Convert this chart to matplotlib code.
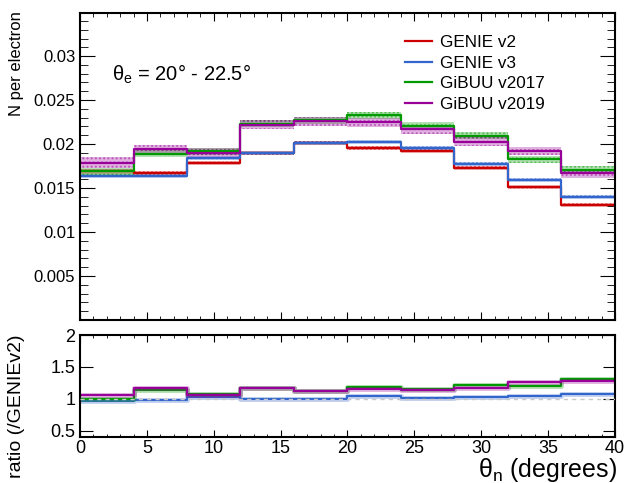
import numpy as np
import matplotlib
matplotlib.use('Agg')
import matplotlib.pyplot as plt
from matplotlib.ticker import MultipleLocator, FixedLocator

plt.rcParams['font.family'] = ['Liberation Sans', 'DejaVu Sans']
plt.rcParams['mathtext.fontset'] = 'custom'
plt.rcParams['mathtext.rm'] = 'Liberation Sans'
plt.rcParams['hatch.linewidth'] = 1.0

# theta_n bins (degrees)
edges = [0, 4, 8, 12, 16, 20, 24, 28, 32, 36, 40]

labels = ['GENIE v2', 'GENIE v3', 'GiBUU v2017', 'GiBUU v2019']
colors = ['#cc0000', '#3366cc', '#009900', '#990099']

genie_v2 = [0.0169, 0.0167, 0.01785, 0.0190, 0.0201, 0.01955, 0.0192, 0.0173, 0.01515, 0.01307]
genie_v3 = [0.0164, 0.01636, 0.0184, 0.0190, 0.02015, 0.02025, 0.01955, 0.01773, 0.0159, 0.0140]
gibuu_2017 = [0.0169, 0.0189, 0.0192, 0.0223, 0.0227, 0.02326, 0.0221, 0.02094, 0.01826, 0.01705]
gibuu_2019 = [0.0179, 0.01943, 0.0190, 0.0222, 0.0226, 0.02248, 0.0217, 0.02026, 0.0192, 0.01667]

err_v2 = [0.00025, 0.00025, 0.00025, 0.00025, 0.00025, 0.00025, 0.00025, 0.00025, 0.00025, 0.00025]
err_v3 = [0.00025, 0.00025, 0.00025, 0.00025, 0.00025, 0.00025, 0.00025, 0.00025, 0.00025, 0.00025]
err_2017 = [0.0004, 0.0004, 0.0004, 0.0004, 0.0004, 0.0004, 0.0004, 0.0004, 0.0004, 0.0004]
err_2019 = [0.0006, 0.0005, 0.0005, 0.0005, 0.0005, 0.0005, 0.0005, 0.0005, 0.0005, 0.0005]

series = [genie_v2, genie_v3, gibuu_2017, gibuu_2019]
errors = [err_v2, err_v3, err_2017, err_2019]

fig = plt.figure(figsize=(6.26, 4.83), dpi=100)
ax1 = fig.add_axes([0.1278, 0.3375, 0.8546, 0.6356])
ax2 = fig.add_axes([0.1278, 0.0952, 0.8546, 0.2112])

def stepvals(v):
    return list(v) + [v[-1]]

for vals, err, c, lab in zip(series, errors, colors, labels):
    v = np.array(vals)
    e = np.array(err)
    ax1.fill_between(edges, stepvals(v - e), stepvals(v + e), step='post',
                     facecolor=c, alpha=0.3, edgecolor='none', lw=0)
    ax1.fill_between(edges, stepvals(v - e), stepvals(v + e), step='post',
                     facecolor='none', alpha=0.45, edgecolor=c, hatch='....', lw=0)
    ax1.step(edges, stepvals(v), where='post', color=c, lw=1.6, label=lab)

ax1.set_xlim(0, 40)
ax1.set_ylim(0, 0.0349)
ax1.yaxis.set_major_locator(FixedLocator([0.005, 0.01, 0.015, 0.02, 0.025, 0.03]))
ax1.yaxis.set_minor_locator(MultipleLocator(0.001))
ax1.xaxis.set_major_locator(MultipleLocator(5))
ax1.xaxis.set_minor_locator(MultipleLocator(1))
ax1.set_yticklabels(['0.005', '0.01', '0.015', '0.02', '0.025', '0.03'])
ax1.tick_params(axis='x', which='both', labelbottom=False, direction='in', top=True, bottom=True)
ax1.tick_params(axis='x', which='major', length=6)
ax1.tick_params(axis='x', which='minor', length=3)
ax1.tick_params(axis='y', which='both', direction='in', left=True, right=True, labelsize=12)
ax1.tick_params(axis='y', which='major', length=11)
ax1.tick_params(axis='y', which='minor', length=5.5)

ax1.legend(loc='upper left', bbox_to_anchor=(0.594, 0.95), frameon=False, fontsize=12.3,
           handlelength=1.6, handletextpad=0.5, labelspacing=0.33, borderaxespad=0)
ax1.text(0.06, 0.80, r'θ$_\mathregular{e}$ = 20° - 22.5°', transform=ax1.transAxes,
         fontsize=14.5, ha='left', va='center')

# ratio panel
ref = np.array(genie_v2)
for vals, c in zip(series[1:], colors[1:]):
    r = np.array(vals) / ref
    ax2.step(edges, stepvals(r), where='post', color=c, lw=3.5, alpha=0.3)
    ax2.step(edges, stepvals(r), where='post', color=c, lw=1.5)
ax2.axhline(1.0, color='#c8c8c8', lw=1.0, ls=(0, (3, 3)), zorder=5)

ax2.set_xlim(0, 40)
ax2.set_ylim(0.4, 2.0)
ax2.yaxis.set_major_locator(FixedLocator([0.5, 1.0, 1.5, 2.0]))
ax2.set_yticklabels(['0.5', '1', '1.5', '2'])
ax2.xaxis.set_major_locator(MultipleLocator(5))
ax2.xaxis.set_minor_locator(MultipleLocator(1))
ax2.tick_params(axis='both', which='both', direction='in', top=True, right=True, labelsize=13)
ax2.tick_params(axis='x', which='major', length=5, pad=2)
ax2.tick_params(axis='x', which='minor', length=2.5)
ax2.tick_params(axis='y', which='major', length=9)

for ax in (ax1, ax2):
    for s in ax.spines.values():
        s.set_linewidth(1.5)

fig.text(17 / 626, 1 - 11 / 483, 'N per electron', rotation=90, ha='center', va='top', fontsize=12)
fig.text(17 / 626, 1 - 334 / 483, 'ratio (/GENIEv2)', rotation=90, ha='center', va='top', fontsize=14)
fig.text(617 / 626, 1 - 470 / 483, r'θ$_\mathregular{n}$ (degrees)', ha='right', va='center', fontsize=18)

fig.savefig('out.png', dpi=100)
